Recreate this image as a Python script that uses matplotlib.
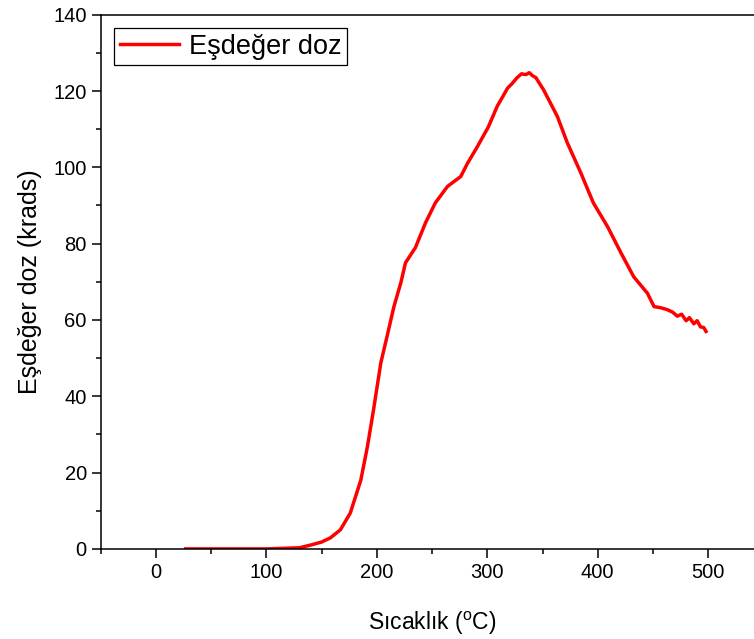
import matplotlib.pyplot as plt
from matplotlib.ticker import MultipleLocator

plt.rcParams['font.family'] = ['Liberation Sans', 'DejaVu Sans']
plt.rcParams['mathtext.fontset'] = 'custom'
plt.rcParams['mathtext.rm'] = 'Liberation Sans'

# temperature (C) and equivalent dose (krads)
temp = [27, 60, 100, 130, 140, 150, 158, 167, 176, 185.5, 191.5, 197, 203.6,
        210, 215.5, 221.7, 226, 235, 244, 253, 264, 276, 282, 291, 301, 309,
        318.5, 322, 327, 331, 335, 338, 341, 344, 351, 363.5, 372.5, 384.6,
        396, 409, 421, 432.6, 445, 451, 457, 463, 468, 472, 476, 480, 483,
        487, 490, 493, 496, 498]
dose = [0, 0, 0, 0.3, 1.0, 1.8, 2.9, 5, 9.4, 18, 26.8, 36.4, 48.7,
        56.6, 63.5, 69.7, 75, 79, 85.4, 90.7, 95, 97.6, 101, 105.4, 110.6, 116,
        120.8, 121.8, 123.5, 124.5, 124.3, 124.8, 124.0, 123.5, 120.3, 113.3, 106.4, 98.6,
        90.7, 84.4, 77.6, 71.3, 67, 63.5, 63.2, 62.7, 62.0, 61.0, 61.5, 59.8, 60.6,
        59.0, 59.8, 58.2, 58.0, 57.0]

fig = plt.figure(figsize=(7.54, 6.39), dpi=100)
ax = fig.add_axes([0.1335, 0.141, 0.879, 0.836])

ax.plot(temp, dose, color='#ff0000', lw=2.5, label='Eşdeğer doz')

ax.set_xlim(-50, 550)
ax.set_ylim(0, 140)
ax.xaxis.set_major_locator(MultipleLocator(100))
ax.xaxis.set_minor_locator(MultipleLocator(50))
ax.yaxis.set_major_locator(MultipleLocator(20))
ax.yaxis.set_minor_locator(MultipleLocator(10))
ax.tick_params(which='major', direction='out', length=6.5, width=1.1, labelsize=14.5)
ax.tick_params(which='minor', direction='out', length=3.5, width=1.1)
for s in ax.spines.values():
    s.set_linewidth(1.1)

ax.set_xlabel('Sıcaklık ($\\mathrm{^{o}}$C)', fontsize=16.5, labelpad=20)
ax.set_ylabel('Eşdeğer doz (krads)', fontsize=18, labelpad=8)

leg = ax.legend(loc='upper left', fontsize=19.5, handlelength=2.2, fancybox=False,
                edgecolor='black', framealpha=1, borderpad=0.2,
                handletextpad=0.35, borderaxespad=0.5)
leg.get_frame().set_linewidth(0.9)

plt.savefig('out.png', dpi=100)
